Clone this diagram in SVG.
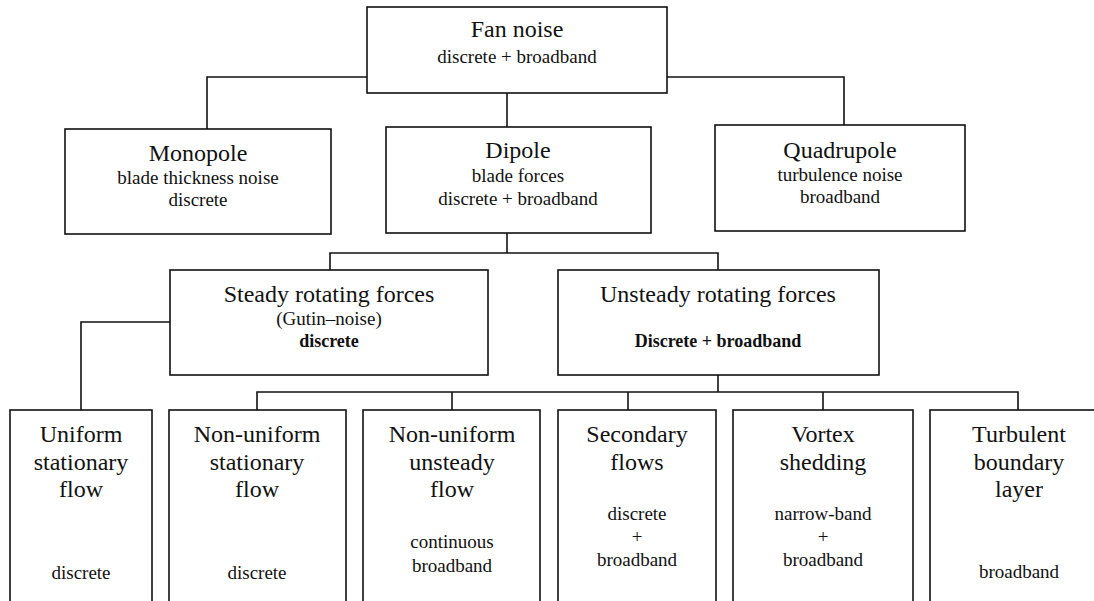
<svg xmlns="http://www.w3.org/2000/svg" width="1094" height="601" viewBox="0 0 1094 601">
  <style>
    .box { fill: #ffffff; stroke: #111111; stroke-width: 1.6; }
    .conn { fill: none; stroke: #111111; stroke-width: 1.6; }
    text { font-family: "Liberation Serif", "Times New Roman", serif; fill: #111111; text-anchor: middle; }
    .t { font-size: 24px; }
    .s { font-size: 19px; }
    .b { font-size: 18px; font-weight: bold; }
  </style>
  <rect width="1094" height="601" fill="#ffffff"/>
  <g id="connectors">
    <path class="conn" d="M367 77 H207 V129"/>
    <path class="conn" d="M667 77 H844 V125"/>
    <path class="conn" d="M507 93 V127"/>
    <path class="conn" d="M507 233 V253"/>
    <path class="conn" d="M330 270 V253 H718 V270"/>
    <path class="conn" d="M170 322 H81 V410"/>
    <path class="conn" d="M718 375 V392"/>
    <path class="conn" d="M257 410 V392 H1018 V410"/>
    <path class="conn" d="M452 392 V410"/>
    <path class="conn" d="M628 392 V410"/>
    <path class="conn" d="M823 392 V410"/>
  </g>
  <g id="fan-noise">
    <rect class="box" x="367" y="7" width="300" height="86"/>
    <text class="t" x="517" y="37">Fan noise</text>
    <text class="s" x="517" y="63">discrete + broadband</text>
  </g>
  <g id="monopole">
    <rect class="box" x="65" y="129" width="266" height="105"/>
    <text class="t" x="198" y="161">Monopole</text>
    <text class="s" x="198" y="184">blade thickness noise</text>
    <text class="s" x="198" y="206">discrete</text>
  </g>
  <g id="dipole">
    <rect class="box" x="386" y="127" width="265" height="106"/>
    <text class="t" x="518" y="158">Dipole</text>
    <text class="s" x="518" y="182">blade forces</text>
    <text class="s" x="518" y="205">discrete + broadband</text>
  </g>
  <g id="quadrupole">
    <rect class="box" x="715" y="125" width="250" height="106"/>
    <text class="t" x="840" y="158">Quadrupole</text>
    <text class="s" x="840" y="181">turbulence noise</text>
    <text class="s" x="840" y="203">broadband</text>
  </g>
  <g id="steady">
    <rect class="box" x="170" y="270" width="318" height="105"/>
    <text class="t" x="329" y="302">Steady rotating forces</text>
    <text class="s" x="329" y="325">(Gutin–noise)</text>
    <text class="b" x="329" y="347">discrete</text>
  </g>
  <g id="unsteady">
    <rect class="box" x="558" y="270" width="321" height="105"/>
    <text class="t" x="718" y="302">Unsteady rotating forces</text>
    <text class="b" x="718" y="347">Discrete + broadband</text>
  </g>
  <g id="uniform-stationary">
    <rect class="box" x="10" y="410" width="142" height="220"/>
    <text class="t" x="81" y="442">Uniform</text>
    <text class="t" x="81" y="470">stationary</text>
    <text class="t" x="81" y="497">flow</text>
    <text class="s" x="81" y="579">discrete</text>
  </g>
  <g id="nonuniform-stationary">
    <rect class="box" x="169" y="410" width="177" height="220"/>
    <text class="t" x="257" y="442">Non-uniform</text>
    <text class="t" x="257" y="470">stationary</text>
    <text class="t" x="257" y="497">flow</text>
    <text class="s" x="257" y="579">discrete</text>
  </g>
  <g id="nonuniform-unsteady">
    <rect class="box" x="363" y="410" width="177" height="220"/>
    <text class="t" x="452" y="442">Non-uniform</text>
    <text class="t" x="452" y="470">unsteady</text>
    <text class="t" x="452" y="497">flow</text>
    <text class="s" x="452" y="548">continuous</text>
    <text class="s" x="452" y="572">broadband</text>
  </g>
  <g id="secondary-flows">
    <rect class="box" x="558" y="410" width="158" height="220"/>
    <text class="t" x="637" y="442">Secondary</text>
    <text class="t" x="637" y="470">flows</text>
    <text class="s" x="637" y="520">discrete</text>
    <text class="s" x="637" y="543">+</text>
    <text class="s" x="637" y="566">broadband</text>
  </g>
  <g id="vortex-shedding">
    <rect class="box" x="733" y="410" width="180" height="220"/>
    <text class="t" x="823" y="442">Vortex</text>
    <text class="t" x="823" y="470">shedding</text>
    <text class="s" x="823" y="520">narrow-band</text>
    <text class="s" x="823" y="543">+</text>
    <text class="s" x="823" y="566">broadband</text>
  </g>
  <g id="turbulent-boundary-layer">
    <rect class="box" x="930" y="410" width="180" height="220"/>
    <text class="t" x="1019" y="442">Turbulent</text>
    <text class="t" x="1019" y="470">boundary</text>
    <text class="t" x="1019" y="497">layer</text>
    <text class="s" x="1019" y="578">broadband</text>
  </g>
</svg>
